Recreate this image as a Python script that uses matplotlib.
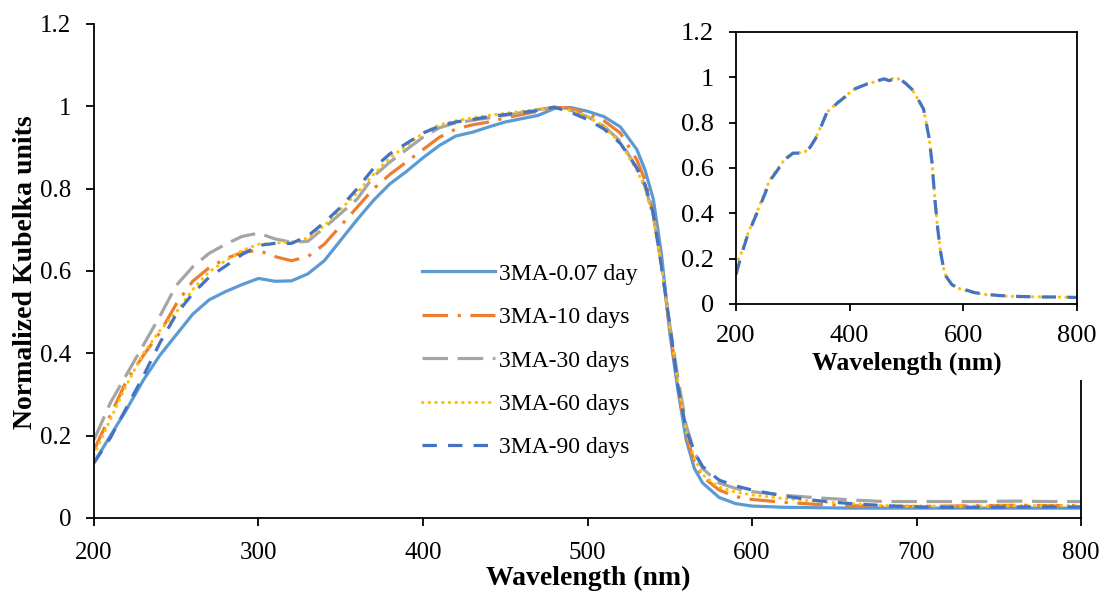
import matplotlib
matplotlib.use("Agg")
import matplotlib.pyplot as plt
from matplotlib.patches import Rectangle
from matplotlib.ticker import FuncFormatter, MultipleLocator

plt.rcParams['font.family'] = ['Liberation Serif', 'DejaVu Serif']

# ---------------- data ----------------
wavelength = [200, 210, 220, 230, 240, 250, 260, 270, 280, 290, 300, 310, 320, 330, 340,
              350, 360, 370, 380, 390, 400, 410, 420, 430, 440, 450, 460, 470, 480, 490,
              500, 510, 520, 530, 535, 540, 545, 550, 555, 560, 565, 570, 580, 590, 600,
              620, 640, 660, 680, 700, 720, 740, 760, 780, 800]

ma_0_07 = [0.135, 0.200, 0.265, 0.335, 0.395, 0.445, 0.495, 0.530, 0.550, 0.567, 0.582, 0.575,
           0.576, 0.593, 0.625, 0.675, 0.725, 0.772, 0.812, 0.842, 0.875, 0.905, 0.928, 0.937,
           0.950, 0.962, 0.970, 0.978, 0.995, 0.997, 0.988, 0.975, 0.950, 0.895, 0.845, 0.775,
           0.640, 0.450, 0.310, 0.190, 0.120, 0.085, 0.050, 0.035, 0.029, 0.026, 0.025, 0.024,
           0.024, 0.024, 0.024, 0.024, 0.024, 0.024, 0.024]

ma_10 = [0.165, 0.250, 0.335, 0.395, 0.450, 0.520, 0.575, 0.608, 0.630, 0.645, 0.650, 0.635,
         0.625, 0.635, 0.665, 0.710, 0.755, 0.800, 0.835, 0.865, 0.895, 0.925, 0.945, 0.955,
         0.962, 0.972, 0.980, 0.988, 0.998, 0.995, 0.982, 0.965, 0.935, 0.870, 0.820, 0.740,
         0.615, 0.460, 0.320, 0.200, 0.135, 0.100, 0.068, 0.052, 0.045, 0.038, 0.033, 0.030,
         0.028, 0.028, 0.029, 0.030, 0.031, 0.030, 0.030]

ma_30 = [0.190, 0.280, 0.350, 0.420, 0.490, 0.565, 0.610, 0.643, 0.665, 0.684, 0.692, 0.678,
         0.670, 0.672, 0.705, 0.740, 0.775, 0.830, 0.865, 0.895, 0.925, 0.948, 0.960, 0.966,
         0.972, 0.978, 0.985, 0.992, 0.998, 0.990, 0.975, 0.952, 0.915, 0.850, 0.805, 0.735,
         0.615, 0.470, 0.340, 0.225, 0.160, 0.120, 0.085, 0.072, 0.064, 0.055, 0.049, 0.044,
         0.040, 0.040, 0.040, 0.040, 0.041, 0.040, 0.040]

ma_60 = [0.153, 0.240, 0.325, 0.400, 0.455, 0.500, 0.555, 0.598, 0.625, 0.650, 0.665, 0.668,
         0.670, 0.680, 0.710, 0.750, 0.790, 0.835, 0.875, 0.905, 0.935, 0.955, 0.965, 0.972,
         0.978, 0.983, 0.988, 0.992, 0.998, 0.990, 0.975, 0.952, 0.910, 0.845, 0.800, 0.730,
         0.610, 0.465, 0.330, 0.210, 0.145, 0.105, 0.075, 0.063, 0.056, 0.047, 0.040, 0.035,
         0.030, 0.029, 0.029, 0.029, 0.030, 0.030, 0.030]

ma_90 = [0.134, 0.195, 0.270, 0.345, 0.425, 0.495, 0.545, 0.585, 0.612, 0.640, 0.662, 0.667,
         0.667, 0.685, 0.718, 0.755, 0.800, 0.850, 0.885, 0.910, 0.935, 0.952, 0.962, 0.968,
         0.975, 0.980, 0.985, 0.990, 0.998, 0.985, 0.968, 0.945, 0.910, 0.850, 0.810, 0.740,
         0.610, 0.470, 0.320, 0.215, 0.160, 0.125, 0.092, 0.078, 0.068, 0.053, 0.042, 0.035,
         0.030, 0.027, 0.026, 0.026, 0.027, 0.027, 0.027]

inset_wavelength = [200, 210, 220, 230, 240, 250, 260, 270, 280, 290, 300, 310, 320, 330, 340,
                    350, 360, 370, 380, 390, 400, 410, 420, 430, 440, 450, 460, 470, 480, 490,
                    500, 510, 520, 530, 540, 545, 550, 555, 560, 565, 570, 580, 590, 600, 620,
                    640, 660, 680, 700, 720, 740, 760, 780, 800]
inset_dashed = [0.130, 0.220, 0.300, 0.360, 0.420, 0.480, 0.545, 0.580, 0.615, 0.645, 0.665, 0.666,
                0.667, 0.690, 0.730, 0.785, 0.845, 0.868, 0.890, 0.910, 0.930, 0.950, 0.960, 0.970,
                0.975, 0.985, 0.993, 0.985, 0.997, 0.990, 0.970, 0.946, 0.905, 0.860, 0.730, 0.620,
                0.460, 0.330, 0.230, 0.160, 0.120, 0.085, 0.072, 0.066, 0.050, 0.043, 0.038, 0.035,
                0.033, 0.032, 0.031, 0.031, 0.030, 0.029]
inset_dotted = [0.170, 0.230, 0.305, 0.365, 0.425, 0.490, 0.550, 0.585, 0.620, 0.648, 0.666, 0.667,
                0.668, 0.692, 0.732, 0.787, 0.846, 0.870, 0.892, 0.912, 0.932, 0.951, 0.961, 0.971,
                0.977, 0.986, 0.995, 0.990, 0.998, 0.990, 0.970, 0.946, 0.905, 0.860, 0.730, 0.620,
                0.460, 0.330, 0.230, 0.160, 0.120, 0.085, 0.070, 0.062, 0.048, 0.042, 0.037, 0.034,
                0.033, 0.032, 0.031, 0.031, 0.030, 0.029]

labels = ['3MA-0.07 day', '3MA-10 days', '3MA-30 days', '3MA-60 days', '3MA-90 days']
series = [ma_0_07, ma_10, ma_30, ma_60, ma_90]

colors = ['#5B9BD5', '#ED7D31', '#A5A5A5', '#FFC000', '#4472C4']
styles = [dict(linestyle='-'),
          dict(linestyle=(0, (8, 3, 1, 3))),
          dict(linestyle=(0, (8, 3))),
          dict(linestyle=(0, (0.1, 2)), dash_capstyle='round'),
          dict(linestyle=(0, (4.5, 3.5)))]

TICK_FS = 18
LEG_FS = 17
LAB_FS = 20
IN_TICK_FS = 19
IN_LAB_FS = 18.5
LW = 2.3

fig = plt.figure(figsize=(11.04, 5.91), dpi=100)
W, H = 1104, 591

def fx(px):
    return px / W

def fy(py):
    return 1 - py / H

ax = fig.add_axes([fx(94), fy(518), fx(1081) - fx(94), fy(24) - fy(518)])
ax.set_zorder(0)
for y, lab, c, st in zip(series, labels, colors, styles):
    ax.plot(wavelength, y, color=c, lw=LW, label=lab, **st)

ax.set_xlim(200, 800)
ax.set_ylim(0, 1.2)
ax.xaxis.set_major_locator(MultipleLocator(100))
ax.yaxis.set_major_locator(MultipleLocator(0.2))
fmt = FuncFormatter(lambda v, p: f"{v:g}")
ax.yaxis.set_major_formatter(fmt)
ax.spines['top'].set_visible(False)
for s in ['left', 'bottom', 'right']:
    ax.spines[s].set_linewidth(1.3)
ax.tick_params(axis='both', direction='out', length=5.5, width=1.3, labelsize=TICK_FS)
ax.tick_params(axis='y', pad=11)
ax.tick_params(axis='x', pad=12)
ax.set_xlabel('Wavelength (nm)', fontsize=LAB_FS, fontweight='bold')
ax.set_ylabel('Normalized Kubelka units', fontsize=LAB_FS, fontweight='bold')
ax.xaxis.set_label_coords(0.5005, (518 - 578) / 494)
ax.xaxis.label.set_verticalalignment('center')
ax.yaxis.set_label_coords((26 - 94) / 987, (518 - 272) / 494)
ax.yaxis.label.set_verticalalignment('center')

leg = ax.legend(loc='upper left', bbox_to_anchor=(fx(422), fy(263)),
                bbox_transform=fig.transFigure, frameon=False, fontsize=LEG_FS,
                handlelength=3.1, handletextpad=0.15, labelspacing=0.93,
                borderpad=0, borderaxespad=0)

# white background behind inset
fig.patches.append(Rectangle((fx(688), fy(380)), 1 - fx(688), fy(0) - fy(380),
                             transform=fig.transFigure, facecolor='white',
                             edgecolor='none', zorder=1))

iax = fig.add_axes([fx(736), fy(304), fx(1077) - fx(736), fy(32) - fy(304)])
iax.set_zorder(2)
iax.plot(inset_wavelength, inset_dotted, color=colors[3], lw=LW,
         linestyle=(0, (0.1, 2)), dash_capstyle='round')
iax.plot(inset_wavelength, inset_dashed, color=colors[4], lw=LW,
         linestyle=(0, (4.5, 3.5)))
iax.set_xlim(200, 800)
iax.set_ylim(0, 1.2)
iax.xaxis.set_major_locator(MultipleLocator(200))
iax.yaxis.set_major_locator(MultipleLocator(0.2))
iax.yaxis.set_major_formatter(fmt)
for s in iax.spines.values():
    s.set_linewidth(1.3)
iax.tick_params(axis='both', direction='out', length=5, width=1.3, labelsize=IN_TICK_FS)
iax.tick_params(axis='y', pad=11)
iax.tick_params(axis='x', pad=10)
iax.set_xlabel('Wavelength (nm)', fontsize=IN_LAB_FS, fontweight='bold')
iax.xaxis.set_label_coords(0.5, (304 - 363) / 272)
iax.xaxis.label.set_verticalalignment('center')

fig.savefig('out.png', dpi=100)
